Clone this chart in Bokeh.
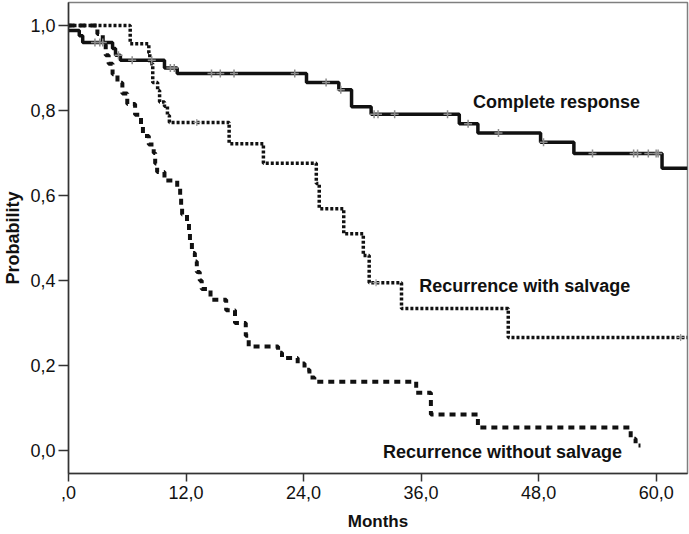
import numpy as np
from bokeh.plotting import figure
from bokeh.models import Range1d, FixedTicker, Label
from bokeh.embed import file_html
from bokeh.resources import INLINE

# ---- data ----
# Complete response (solid)
cr_time = [0, 1.1, 1.45, 4.5, 4.8, 5.3, 9.8, 11.1, 24.3, 27.6, 28.9, 30.9, 39.9, 41.8, 48.2, 51.6, 60.6, 63.2]
cr_surv = [0.988, 0.976, 0.96, 0.946, 0.93, 0.918, 0.90, 0.887, 0.866, 0.849, 0.809, 0.791, 0.769, 0.747, 0.725, 0.699, 0.664, 0.664]
cr_censor = [2.7, 3.2, 3.5, 5.1, 6.5, 8.5, 10.4, 10.8, 14.6, 15.5, 16.9, 23.1, 26.3, 27.8, 31.2, 31.6, 33.3,
             38.7, 40.8, 43.9, 48.5, 53.5, 57.7, 58.1, 59.2, 60.0, 60.2]

# Recurrence with salvage (dotted)
rs_time = [0, 6.3, 8.2, 8.3, 8.6, 9.1, 9.3, 9.8, 10.1, 10.3, 16.4, 19.9, 25.3, 25.6, 28.1, 30.1, 30.7, 34.0, 44.9, 63.2]
rs_surv = [1.0, 0.957, 0.935, 0.91, 0.866, 0.847, 0.82, 0.81, 0.788, 0.772, 0.722, 0.676, 0.628, 0.569, 0.51, 0.459, 0.395, 0.334, 0.266, 0.266]
rs_censor = [13.1, 31.4, 62.5]

# Recurrence without salvage (dashed)
rn_time = [0, 2.95, 3.5, 3.8, 4.1, 4.5, 5.0, 5.5, 6.0, 6.8, 7.4, 7.6, 8.2, 8.7, 8.85, 9.05, 9.8, 11.1, 11.4, 11.5,
           11.6, 12.1, 12.3, 12.4, 12.6, 12.9, 13.1, 13.4, 13.6, 14.5, 16.1, 17.0, 18.1, 18.4, 21.4, 21.8, 23.4,
           24.1, 24.6, 25.1, 35.5, 37.0, 41.8, 57.4, 57.9, 58.4]
rn_surv = [1.0, 0.98, 0.955, 0.93, 0.91, 0.885, 0.865, 0.84, 0.815, 0.79, 0.765, 0.74, 0.72, 0.70, 0.675, 0.655,
           0.635, 0.62, 0.60, 0.575, 0.555, 0.535, 0.51, 0.49, 0.465, 0.445, 0.42, 0.40, 0.38, 0.355, 0.33, 0.30,
           0.27, 0.245, 0.23, 0.218, 0.205, 0.19, 0.172, 0.162, 0.136, 0.085, 0.054, 0.028, 0.012, 0.012]

x_ticks = [0, 12, 24, 36, 48, 60]
x_tick_labels = [",0", "12,0", "24,0", "36,0", "48,0", "60,0"]
y_ticks = [0.0, 0.2, 0.4, 0.6, 0.8, 1.0]
y_tick_labels = ["0,0", "0,2", "0,4", "0,6", "0,8", "1,0"]

FONT = "Liberation Sans"


def surv_at(times, surv, t):
    idx = np.searchsorted(np.asarray(times), np.asarray(t), side="right") - 1
    return list(np.asarray(surv)[idx])


p = figure(width=689, height=534, output_backend="svg", toolbar_location=None,
           x_range=Range1d(0, 63.2), y_range=Range1d(-0.054, 1.054),
           min_border_left=66, min_border_right=2, min_border_top=2, min_border_bottom=61)
p.background_fill_color = "white"
p.border_fill_color = "white"
p.outline_line_color = "#7f7f7f"
p.outline_line_width = 1.5
p.xgrid.visible = False
p.ygrid.visible = False

for ax in (p.xaxis[0], p.yaxis[0]):
    ax.axis_line_color = "#333333"
    ax.axis_line_width = 1.5
    ax.major_tick_line_color = "#333333"
    ax.major_tick_line_width = 1.5
    ax.minor_tick_line_color = None
    ax.major_tick_in = 0
    ax.major_label_text_font = FONT
    ax.major_label_text_font_size = "18px"
    ax.major_label_text_font_style = "normal"
    ax.major_label_text_color = "#111111"
    ax.axis_label_text_font = FONT
    ax.axis_label_text_font_style = "bold"
    ax.axis_label_text_color = "#111111"

p.xaxis.ticker = FixedTicker(ticks=x_ticks)
p.xaxis.major_label_overrides = {t: s for t, s in zip(x_ticks, x_tick_labels)}
p.yaxis.ticker = FixedTicker(ticks=y_ticks)
p.yaxis.major_label_overrides = {t: s for t, s in zip(y_ticks, y_tick_labels)}
p.xaxis.major_tick_out = 8
p.yaxis.major_tick_out = 10
p.xaxis.major_label_standoff = 4
p.yaxis.major_label_standoff = 3
p.xaxis.axis_label = "Months"
p.yaxis.axis_label = "Probability"
p.xaxis.axis_label_text_font_size = "17px"
p.yaxis.axis_label_text_font_size = "18px"
p.xaxis.axis_label_standoff = 10
p.yaxis.axis_label_standoff = 4

# curves
p.step(rn_time, rn_surv, mode="after", line_color="#111111", line_width=4, line_dash="6 5")
p.step(rs_time, rs_surv, mode="after", line_color="#111111", line_width=3.5, line_dash="3 2")
p.step(cr_time, cr_surv, mode="after", line_color="#111111", line_width=3.5)

# censor marks
p.scatter(cr_censor, surv_at(cr_time, cr_surv, cr_censor), marker="cross", size=8,
          line_color="#8c8c8c", line_width=1.5)
p.scatter(rs_censor, surv_at(rs_time, rs_surv, rs_censor), marker="cross", size=7,
          line_color="#9a9a9a", line_width=1.2)

lab_kw = dict(text_font=FONT, text_font_style="bold", text_font_size="18px",
              text_baseline="middle", text_color="#111111")
p.add_layout(Label(x=41.3, y=0.819, text="Complete response", **lab_kw))
p.add_layout(Label(x=35.8, y=0.388, text="Recurrence with salvage", **lab_kw))
p.add_layout(Label(x=32.1, y=-0.003, text="Recurrence without salvage", **lab_kw))

open("out.html", "w").write(file_html(p, INLINE))
